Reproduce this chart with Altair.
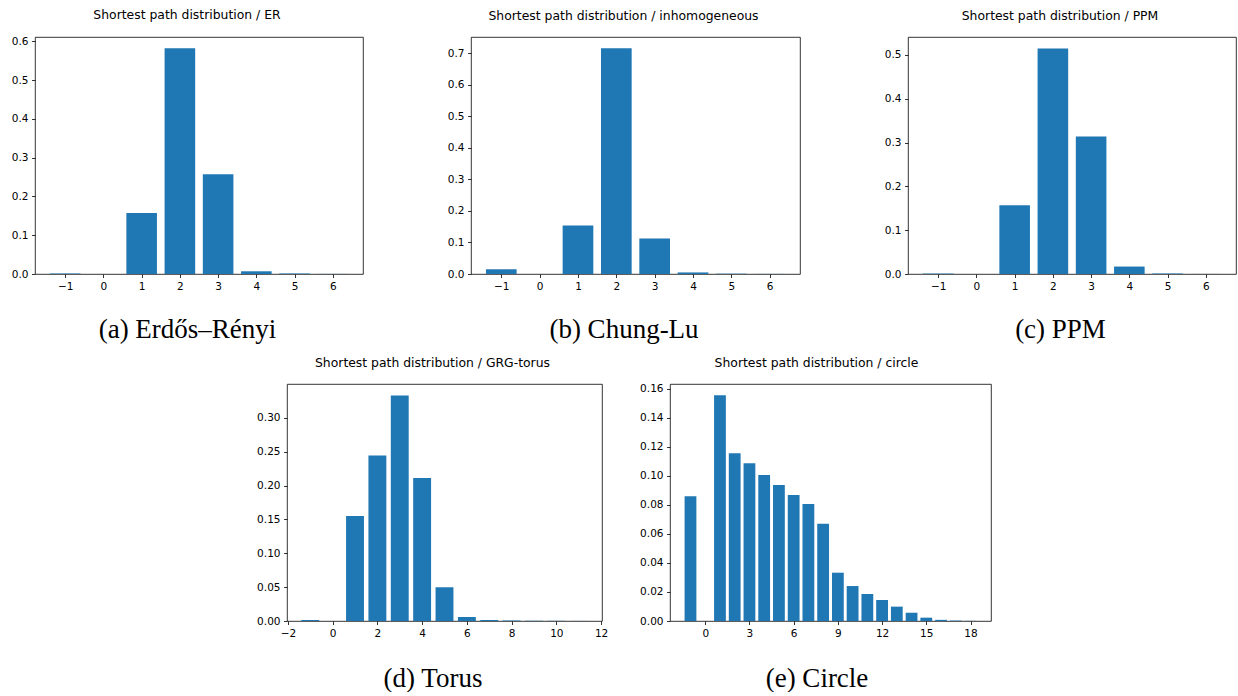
import altair as alt
import pandas as pd

# ---- data ----
k_small = [-1, 0, 1, 2, 3, 4, 5, 6]
p_er = [0.001, 0.0, 0.157, 0.582, 0.257, 0.007, 0.001, 0.0002]
p_cl = [0.015, 0.0, 0.154, 0.716, 0.113, 0.005, 0.001, 0.0002]
p_ppm = [0.001, 0.0, 0.157, 0.515, 0.314, 0.017, 0.001, 0.0001]

k_torus = [-1, 0, 1, 2, 3, 4, 5, 6, 7, 8, 9, 10, 11]
p_torus = [0.0015, 0.0, 0.155, 0.2445, 0.333, 0.211, 0.050, 0.006, 0.0015,
           0.0006, 0.0004, 0.0003, 0.0001]

k_circle = [-1, 0, 1, 2, 3, 4, 5, 6, 7, 8, 9, 10, 11, 12, 13, 14, 15, 16, 17, 18]
p_circle = [0.086, 0.0, 0.1556, 0.1157, 0.1088, 0.1006, 0.0937, 0.0868, 0.0806,
            0.067, 0.0333, 0.0241, 0.0186, 0.0145, 0.0099, 0.0057, 0.0023,
            0.0008, 0.0003, 0.0001]

titles = ["Shortest path distribution / ER",
          "Shortest path distribution / inhomogeneous",
          "Shortest path distribution / PPM",
          "Shortest path distribution / GRG-torus",
          "Shortest path distribution / circle"]
captions = ["(a) Erdős–Rényi", "(b) Chung-Lu", "(c) PPM", "(d) Torus", "(e) Circle"]

xt_small = [-1, 0, 1, 2, 3, 4, 5, 6]
xt_torus = [-2, 0, 2, 4, 6, 8, 10, 12]
xt_circle = [0, 3, 6, 9, 12, 15, 18]
yt_er = [0.0, 0.1, 0.2, 0.3, 0.4, 0.5, 0.6]
yt_cl = [0.0, 0.1, 0.2, 0.3, 0.4, 0.5, 0.6, 0.7]
yt_ppm = [0.0, 0.1, 0.2, 0.3, 0.4, 0.5]
yt_torus = [0.0, 0.05, 0.10, 0.15, 0.20, 0.25, 0.30]
yt_circle = [0.0, 0.02, 0.04, 0.06, 0.08, 0.10, 0.12, 0.14, 0.16]

SANS = "DejaVu Sans"
SERIF = "Liberation Serif"

AXIS_STYLE = dict(grid=False, domain=False, tickSize=3.5, tickWidth=0.8,
                  tickColor="black", labelFont=SANS, labelFontSize=10.5,
                  labelColor="black", labelPadding=3.5, labelFlush=False,
                  labelOverlap=False)


def panel(ks, ps, title, caption, xdom, ydom, xticks, yticks, yfmt, w, h, cap_y, shift):
    df = pd.DataFrame({"k": ks, "p": ps})
    return (
        alt.Chart(df, title=alt.Title(title, font=SANS, fontSize=12.4, fontWeight="normal",
                                      color="black", anchor="middle", frame="group",
                                      dx=shift, offset=5, baseline="alphabetic"))
        .transform_calculate(x0="datum.k - 0.4", x1="datum.k + 0.4")
        .mark_bar(color="#1f77b4")
        .encode(
            x=alt.X("x0:Q", scale=alt.Scale(domain=xdom, nice=False, zero=False),
                    axis=alt.Axis(values=xticks, format="d", title=caption,
                                  titleX=w / 2 + shift, titleY=cap_y, titleAlign="center",
                                  titleBaseline="alphabetic", titleFont=SERIF,
                                  titleFontSize=27, titleFontWeight="normal",
                                  titleColor="black", **AXIS_STYLE)),
            x2="x1:Q",
            y=alt.Y("p:Q", scale=alt.Scale(domain=ydom, nice=False),
                    axis=alt.Axis(values=yticks, format=yfmt, title=None, **AXIS_STYLE)),
            y2=alt.datum(0),
        )
        .properties(width=w, height=h)
    )


a = panel(k_small, p_er, titles[0], captions[0], [-1.79, 6.79], [0, 0.611],
          xt_small, yt_er, ".1f", 328, 237, 63, -12)
b = panel(k_small, p_cl, titles[1], captions[1], [-1.79, 6.79], [0, 0.752],
          xt_small, yt_cl, ".1f", 329, 237, 63, -12)
c = panel(k_small, p_ppm, titles[2], captions[2], [-1.79, 6.79], [0, 0.541],
          xt_small, yt_ppm, ".1f", 328, 237, 63, -12)
d = panel(k_torus, p_torus, titles[3], captions[3], [-2.04, 12.04], [0, 0.350],
          xt_torus, yt_torus, ".2f", 315, 237, 65, -12)
e = panel(k_circle, p_circle, titles[4], captions[4], [-2.39, 19.39], [0, 0.1634],
          xt_circle, yt_circle, ".2f", 321, 237, 65, -14)

spacer = (
    alt.Chart(pd.DataFrame({"z": [0]}))
    .mark_point(opacity=0)
    .encode(x=alt.value(10), y=alt.value(10))
    .properties(width=184, height=237, view=alt.ViewBackground(stroke="transparent"))
)

top = alt.hconcat(a, b, c, spacing=108, bounds="flush")
bottom = alt.hconcat(spacer, d, e, spacing=68, bounds="flush")

chart = (
    alt.vconcat(top, bottom, spacing=13)
    .properties(padding={"left": 10, "top": 8, "right": 0, "bottom": 0},
                background="white")
    .configure_view(stroke="black", strokeWidth=0.8)
)

chart.save("out.html", embed_options={"renderer": "svg", "actions": False})
